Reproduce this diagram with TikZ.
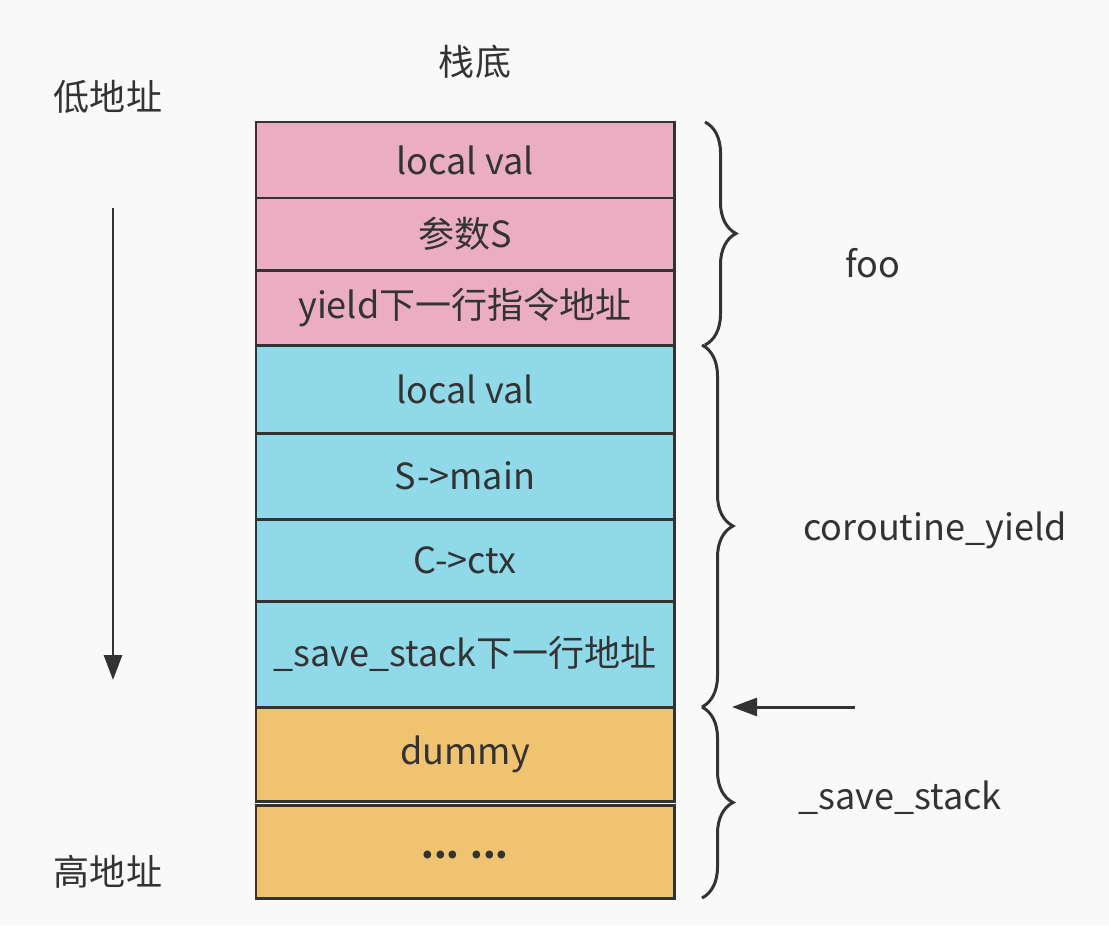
\documentclass[tikz,border=0pt]{standalone}
\usepackage{fontspec}
\setmainfont{Noto Sans CJK SC}
\usetikzlibrary{positioning,decorations.pathreplacing,arrows.meta}
\definecolor{ink}{HTML}{333333}
\definecolor{pinkc}{HTML}{EBADC2}
\definecolor{bluec}{HTML}{90D9E9}
\definecolor{orangec}{HTML}{F0C371}
\definecolor{paper}{HTML}{F9F9F9}

\begin{document}
\begin{tikzpicture}[
  cell/.style={
    draw=ink, line width=1.7pt,
    outer sep=0pt, inner sep=0pt,
    minimum width=8.36cm, % all frames share one width
    text=ink, font=\fontsize{20.5}{25}\selectfont
  },
  lbl/.style={text=ink, font=\fontsize{20.5}{25}\selectfont},
  brc/.style={draw=ink, line width=1.7pt, decorate, decoration={brace, amplitude=0.62cm}},
  arr/.style={draw=ink, line width=1.7pt, -{Triangle[length=0.5cm,width=0.36cm]}}
]
\fill[paper] (0,0) rectangle (22.18,-18.5);
\useasboundingbox (0,0) rectangle (22.18,-18.5);

% --- stack frames ---
\foreach \t/\h/\c [count=\i] in {local val/1.52/pinkc, 参数S/1.44/pinkc, yield下一行指令地址/1.5/pinkc, local val/1.76/bluec, S->main/1.72/bluec, C->ctx/1.64/bluec, \_save\_stack下一行地址/2.12/bluec, dummy/1.88/orangec} {
  \ifnum\i=1
    \node[cell, fill=\c, minimum height=\h cm, anchor=north west] (r\i) at (5.12,-2.44) {\t};
  \else
    \node[cell, fill=\c, minimum height=\h cm, below=0pt of r\the\numexpr\i-1\relax] (r\i) {\t};
  \fi
}
\node[cell, fill=orangec, minimum height=1.86cm, text height=0.8em, text depth=0pt, below=0.08cm of r8] (r9) {\textbf{... ...}};

% --- braces ---
\draw[brc] ([xshift=0.62cm]r1.north east) -- ([xshift=0.62cm]r3.south east);
\draw[brc] ([xshift=0.56cm]r3.south east) -- ([xshift=0.56cm]r7.south east);
\draw[brc] ([xshift=0.56cm]r7.south east) -- ([xshift=0.56cm]r9.south east);

\node[lbl] (foo) at (17.46,-5.26) {foo};
\node[lbl] (cy) at (18.7,-10.6) {coroutine\_yield};
\node[lbl] (ss) at (18.0,-15.96) {\_save\_stack};

% --- addresses ---
\node[lbl] (bottom) at (9.5,-1.24) {栈底};
\node[lbl] (low) at (2.16,-1.94) {低地址};
\node[lbl] (high) at (2.16,-17.44) {高地址};

\coordinate (lowS) at (2.26,-4.16);
\coordinate (highE) at (2.26,-13.6);
\draw[arr] (lowS) -- (highE);

\coordinate (ptrS) at (17.1,-14.14);
\coordinate (ptrE) at (14.64,-14.14);
\draw[arr] (ptrS) -- (ptrE);
\end{tikzpicture}
\end{document}
